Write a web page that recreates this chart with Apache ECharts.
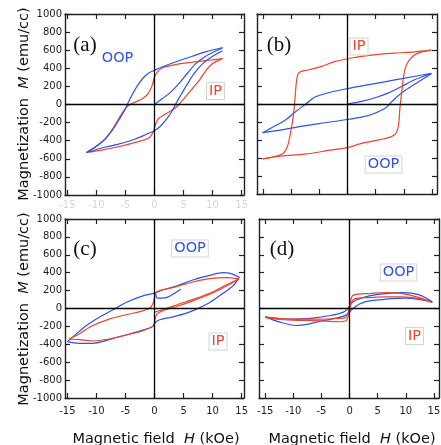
<!DOCTYPE html>
<html>
<head>
<meta charset="utf-8">
<script src="https://cdn.jsdelivr.net/npm/echarts@6/dist/echarts.min.js"></script>
<style>
  html, body { margin: 0; padding: 0; background: #fff; }
  #chart { width: 441px; height: 445px; }
</style>
</head>
<body>
<div id="chart"></div>
<script>
// Field ticks (kOe) shared by every panel
const H_TICKS = [-15, -10, -5, 0, 5, 10, 15];

// (a) loops: [H (kOe), M (emu/cc)]
const aOopDown = [[11.7,630],[8.8,581],[6.5,533],[3.6,470],[1.3,415],[0,378],[-1.0,348],[-1.8,304],[-2.7,230],[-3.6,137],[-4.5,26],[-5.0,-48],[-5.9,-148],[-7.1,-270],[-8.5,-381],[-9.9,-455],[-11.7,-530]];
const aOopUp = [[-11.7,-530],[-9.1,-481],[-6.2,-437],[-3.3,-381],[-1.3,-326],[0,-290],[1.0,-240],[2.2,-150],[3.1,-67],[3.6,0],[4.5,100],[5.7,230],[6.8,341],[8.3,452],[10.0,533],[11.7,593]];
const aOopInit = [[0,0],[1.3,63],[2.8,137],[4.2,230],[5.7,348],[7.1,452],[8.8,533],[10.6,593],[11.7,625]];
const aIpDown = [[11.7,507],[9.4,489],[6.5,467],[3.6,441],[1.3,404],[0.5,359],[0,304],[-0.4,211],[-1.1,119],[-2.1,63],[-3.3,26],[-4.5,-11],[-5.3,-67],[-6.2,-160],[-7.3,-280],[-8.6,-390],[-10.0,-462],[-11.7,-530]];
const aIpUp = [[-11.7,-530],[-9.1,-504],[-6.2,-467],[-3.3,-419],[-1.0,-370],[-0.2,-300],[0.2,-215],[0.75,-152],[1.9,-104],[3.4,-48],[4.2,0],[5.4,89],[6.5,174],[7.7,267],[8.8,370],[10.0,452],[11.7,507]];

// (b) loops
const bIpDown = [[14.9,598],[12.0,580],[8.4,565],[4.3,543],[1.3,517],[0,503],[-2.2,473],[-4.6,418],[-7.0,378],[-8.2,363],[-8.8,334],[-9.1,242],[-9.3,95],[-9.5,-51],[-9.8,-198],[-10.2,-345],[-10.7,-473],[-11.4,-547],[-12.9,-583],[-15.1,-609]];
const bIpUp = [[-15.1,-609],[-11.7,-576],[-7.6,-558],[-2.8,-510],[0,-484],[2.5,-437],[6.0,-393],[7.8,-363],[8.7,-316],[9.1,-217],[9.3,-51],[9.6,114],[9.9,279],[10.3,407],[11.1,499],[12.5,565],[14.9,598]];
const bOopDown = [[14.9,341],[12.0,308],[8.4,268],[4.3,220],[0,172],[-3.4,125],[-5.8,77],[-7.3,5],[-9.3,-88],[-11.1,-180],[-13.5,-264],[-15.1,-319]];
const bOopUp = [[-15.1,-319],[-12.0,-290],[-8.0,-245],[-4.0,-208],[0,-172],[2.5,-145],[4.3,-117],[6.6,-51],[7.5,0],[8.4,59],[10.2,150],[12.5,242],[14.9,335]];
const bOopInit = [[0,0],[2.5,29],[4.9,70],[7.2,121],[9.6,194],[12.0,272],[14.9,336]];

// (c) loops
const cOopDown = [[14.6,350],[13.0,393],[11.8,400],[9.5,370],[6.6,319],[3.8,252],[1.4,207],[0,172],[-2.0,141],[-5.0,65],[-6.6,5],[-9.3,-90],[-11.6,-185],[-13.3,-275],[-15.0,-370]];
const cOopUp = [[-15.0,-370],[-13.0,-389],[-10.7,-389],[-7.8,-348],[-4.9,-296],[-2.0,-241],[-0.3,-200],[0,-165],[0.9,-126],[3.2,-93],[5.5,-52],[7.2,-7],[9.5,67],[11.8,170],[13.6,259],[14.6,350]];
const cOopInit = [[0.2,172],[0.5,115],[1.8,118],[3.2,160],[4.5,215]];
const cIpDown = [[14.5,330],[12.4,344],[9.5,333],[6.6,296],[3.8,244],[0.9,200],[0.2,178],[0,122],[-0.3,48],[-0.9,0],[-2.0,-26],[-4.9,-70],[-7.8,-118],[-10.7,-193],[-13.0,-285],[-14.7,-341]];
const cIpUp = [[-14.7,-341],[-13.0,-348],[-10.7,-363],[-7.8,-341],[-4.9,-296],[-2.0,-248],[-0.1,-185],[0.1,-119],[0.4,-63],[1.4,-26],[3.8,22],[6.6,85],[9.5,159],[12.4,252],[14.5,330]];
const cIpInit = [[0,-40],[2.0,0],[4.0,45],[7.0,110],[10.0,185],[12.4,265],[14.5,330]];

// (d) loops
const dOopDown = [[14.7,74],[12.4,152],[9.4,178],[6.4,167],[3.5,141],[1.1,93],[0.2,48],[-0.4,-7],[-1.2,-44],[-3.6,-81],[-6.6,-107],[-10.1,-119],[-13.1,-107],[-15.0,-93]];
const dOopUp = [[-15.0,-93],[-12.5,-150],[-9.5,-190],[-7.0,-170],[-5.4,-144],[-1.8,-100],[-0.4,-63],[0.5,-7],[1.7,48],[3.5,85],[6.4,104],[10.0,115],[12.5,100],[14.7,74]];
const dIpDown = [[14.7,67],[12.4,122],[9.4,167],[6.4,178],[3.5,167],[1.5,160],[0.5,140],[0.1,60],[-0.2,-30],[-0.7,-100],[-2.0,-112],[-5.4,-119],[-10.0,-119],[-13.0,-110],[-15.0,-100]];
const dIpUp = [[-15.0,-100],[-13.0,-120],[-10.1,-130],[-5.4,-137],[-2.0,-148],[-0.7,-140],[-0.3,-100],[0,-30],[0.3,60],[0.7,100],[1.5,115],[3.5,122],[6.4,130],[9.4,130],[12.4,110],[14.7,67]];

const OOP_COLOR = '#2d52e4';
const IP_COLOR = '#ea4530';
const FRAME = '#222';
const SANS = '"DejaVu Sans", sans-serif';

// panel layout: grid box + field range
const panels = [
  { left: 65,  top: 14,  width: 179, height: 181, xMin: -15.4, xMax: 15.4, yLabels: true,  xLabels: true, xLabelColor: '#d6d6d6', xMargin: 5,
    loops: [[aOopInit, OOP_COLOR], [aIpDown, IP_COLOR], [aIpUp, IP_COLOR], [aOopDown, OOP_COLOR], [aOopUp, OOP_COLOR]] },
  { left: 257, top: 14,  width: 180, height: 180, xMin: -16.1, xMax: 15.9, yLabels: false, xLabels: false,
    loops: [[bOopInit, OOP_COLOR], [bOopDown, OOP_COLOR], [bOopUp, OOP_COLOR], [bIpDown, IP_COLOR], [bIpUp, IP_COLOR]] },
  { left: 65,  top: 219, width: 179, height: 179, xMin: -15.4, xMax: 15.4, yLabels: true,  xLabels: true, xLabelColor: '#222', xMargin: 8,
    loops: [[cOopInit, OOP_COLOR], [cOopDown, OOP_COLOR], [cOopUp, OOP_COLOR], [cIpInit, IP_COLOR], [cIpDown, IP_COLOR], [cIpUp, IP_COLOR]] },
  { left: 259, top: 219, width: 180, height: 179, xMin: -16.1, xMax: 15.9, yLabels: false, xLabels: true, xLabelColor: '#222', xMargin: 8,
    loops: [[dOopDown, OOP_COLOR], [dOopUp, OOP_COLOR], [dIpDown, IP_COLOR], [dIpUp, IP_COLOR]] }
];

const grids = [], xAxes = [], yAxes = [], series = [];
const frameLine = { show: true, onZero: false, lineStyle: { color: FRAME, width: 1.4 } };
const tick = { show: true, inside: true, length: 5, lineStyle: { color: FRAME, width: 1.2 } };

panels.forEach((p, i) => {
  grids.push({ left: p.left, top: p.top, width: p.width, height: p.height, outerBoundsMode: 'none', containLabel: false });
  ['bottom', 'top'].forEach((pos) => {
    xAxes.push({
      gridIndex: i, type: 'value', position: pos, min: p.xMin, max: p.xMax,
      axisLine: frameLine,
      axisTick: Object.assign({}, tick, { customValues: H_TICKS }),
      axisLabel: {
        show: pos === 'bottom' && p.xLabels, customValues: H_TICKS, margin: p.xMargin || 8,
        color: p.xLabelColor || '#222', fontSize: 10, fontFamily: SANS,
        formatter: (v) => String(v)
      },
      splitLine: { show: false }
    });
  });
  ['left', 'right'].forEach((pos) => {
    yAxes.push({
      gridIndex: i, type: 'value', position: pos, min: -1000, max: 1000, interval: 200,
      axisLine: frameLine, axisTick: tick,
      axisLabel: {
        show: pos === 'left' && p.yLabels, margin: 3, color: '#222', fontSize: 10, fontFamily: SANS,
        formatter: (v) => String(v)
      },
      splitLine: { show: false }
    });
  });
  p.loops.forEach(([data, color], k) => {
    const s = {
      type: 'line', xAxisIndex: 2 * i, yAxisIndex: 2 * i, data: data,
      symbol: 'none', showSymbol: false, smooth: 0.3, clip: true,
      lineStyle: { color: color, width: 1.2 }, itemStyle: { color: color },
      silent: true, animation: false, z: 3
    };
    if (k === 0) {
      s.markLine = {
        silent: true, symbol: 'none', label: { show: false }, animation: false,
        lineStyle: { color: '#000', width: 1.3, type: 'solid' },
        data: [{ xAxis: 0 }, { yAxis: 0 }]
      };
    }
    series.push(s);
  });
});

function tag(text, x, y, color, boxed) {
  const style = {
    text: text, x: 0, y: 0, fill: color, font: '14.5px ' + SANS,
    align: 'center', verticalAlign: 'middle'
  };
  if (boxed) {
    Object.assign(style, { backgroundColor: '#fff', borderColor: '#d4d4d4', borderWidth: 1, padding: [1, 2, 0, 2] });
  }
  return { type: 'text', x: x, y: y, z: 10, style: style };
}
function panelMark(text, x, y) {
  return { type: 'text', x: x, y: y, z: 10, style: { text: text, fill: '#111', font: '21px "Liberation Serif", serif', align: 'center', verticalAlign: 'middle' } };
}
function yTitle(y) {
  return {
    type: 'text', x: 24, y: y, rotation: Math.PI / 2, z: 10,
    style: {
      text: '{n|Magnetization  }{i|M}{n| (emu/cc)}', align: 'center', verticalAlign: 'middle',
      rich: {
        n: { fontSize: 14.5, fontFamily: SANS, fill: '#111', color: '#111' },
        i: { fontSize: 14.5, fontFamily: SANS, fontStyle: 'italic', fill: '#111', color: '#111' }
      }
    }
  };
}
function xTitle(x) {
  return {
    type: 'text', x: x, y: 439, z: 10,
    style: {
      text: '{n|Magnetic field  }{i|H}{n| (kOe)}', align: 'center', verticalAlign: 'middle',
      rich: {
        n: { fontSize: 14.5, fontFamily: SANS, fill: '#111', color: '#111' },
        i: { fontSize: 14.5, fontFamily: SANS, fontStyle: 'italic', fill: '#111', color: '#111' }
      }
    }
  };
}

const graphics = [
  panelMark('(a)', 85, 45), panelMark('(b)', 279, 45), panelMark('(c)', 85, 249), panelMark('(d)', 282, 249),
  tag('OOP', 117.5, 58.5, OOP_COLOR, false), tag('IP', 215.5, 91, IP_COLOR, true),
  tag('IP', 359, 46.5, IP_COLOR, true), tag('OOP', 383.5, 164.5, OOP_COLOR, true),
  tag('OOP', 190, 248.5, OOP_COLOR, true), tag('IP', 218, 341.5, IP_COLOR, true),
  tag('OOP', 398.5, 272.5, OOP_COLOR, true), tag('IP', 414.5, 336, IP_COLOR, true),
  yTitle(104), yTitle(309), xTitle(156), xTitle(352)
];

const chart = echarts.init(document.getElementById('chart'), null, { renderer: 'canvas' });
chart.setOption({
  animation: false,
  backgroundColor: '#fff',
  grid: grids,
  xAxis: xAxes,
  yAxis: yAxes,
  series: series,
  graphic: graphics
});
</script>
</body>
</html>
